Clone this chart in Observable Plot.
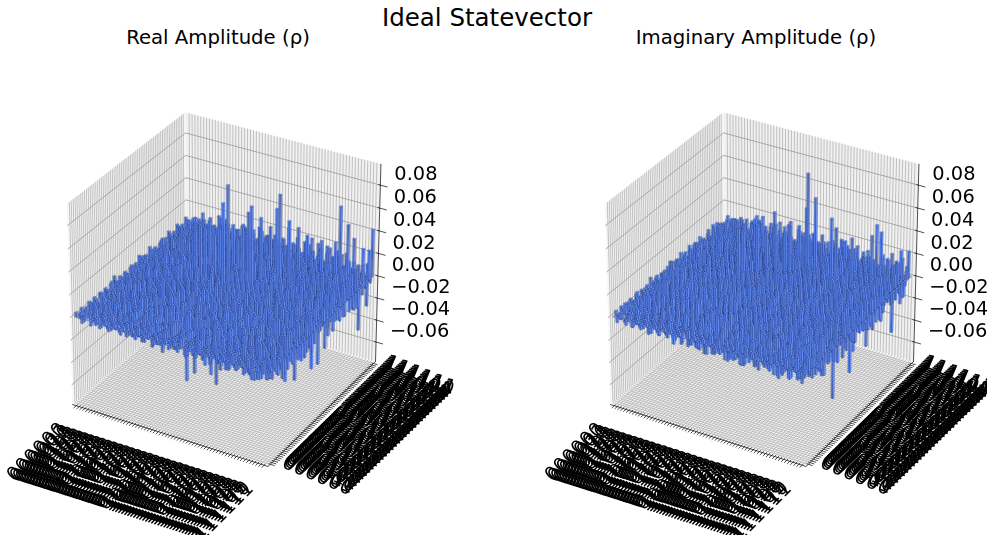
<!DOCTYPE html>
<html><head><meta charset="utf-8">
<script src="https://cdn.jsdelivr.net/npm/d3@7"></script>
<script src="https://cdn.jsdelivr.net/npm/@observablehq/plot@0.6"></script>
<style>
html,body{margin:0;background:#fff;width:987px;height:535px;overflow:hidden;font-family:"DejaVu Sans",sans-serif}
#wrap{position:relative;width:987px;height:535px;overflow:hidden}
#wrap svg{position:absolute;top:0;background:transparent;overflow:hidden;filter:blur(.4px)}
.t{position:absolute;white-space:nowrap;transform:translateX(-50%);color:#000}
</style></head><body><div id="wrap"></div>
<script>
const title="Ideal Statevector", realTitle="Real Amplitude (ρ)", imagTitle="Imaginary Amplitude (ρ)";
const zTicks=[-0.06,-0.04,-0.02,0,0.02,0.04,0.06,0.08];
const nStates=64;
const basisLabels=d3.range(nStates).map(n=>n.toString(2).padStart(6,"0"));
// Upper triangle of each 64x64 density-matrix part, estimated by eye. "." = 0, 1-9 = + steps, a-i = - steps.
const realRows=[
"1.a1.a.1 a.1a.1.a 1a.1a2.a 1.a1.b1a .1a2.a1. a2.b1a.1 b1.a2a.1 a2.b1.2a",
"1a.1.a1 a1a.1.a1 .a2a1.a. 1b1.a2.a 1a.2b.1a 2.a1b.2a 1.b2a.1b 2a1.b2.a",
"1.a1a. 1a.2a.1a 1.a2.b1a 2a.1b2.a 1a2.b1.a 2b.1a3.b 1a2.b1a. 2c1.a2b1",
"1a2.a 1.b1a2.a1 b.2a1.a2 .b1a2.b1 a3.a1b.2 a.b2a1.c 2a1b.3a. 1c2.a2b1",
"2.a1 a2.b1a1. a2.b1a2. b2a.1b3. a1c2.a1b 3a.b2a.1 c2b1a3.b 2a1c.3a2",
"1a2 .b1a2b1. a3.b2a1. c1a2b.3a b1.2c.a3 b2a1.c3a 2b.1a3c2 a.4b1c2a",
"2b 1a.2b1a2 .c1a3.b2 a1c.2a3b 1.a2c1.3 b2a.4c1a 3b2.a1d2 b3a.1c4b",
"1 a2b.3a1b 2c1a.3b2 a.1c3a2b .4a1c2.b 3a2d.1b4 a3c.2b1a 4c2.b3a1",
"a2b1c3a. 2b1a3c.2 a1b4.a2c 3.b1a4c2 .a3b1d.4 a2c3b1.a 4c2d.1b3",
"2a3b.1c 2a1c3.b2 a4b1.c3a 2b.4a1c2 d3a.1b4c 2a.3d1b4 a2c3.b1d",
"3b1a2c 4a.2b3c1 a2d.3b1a 4c2.b3a1 d4.a2c3b 1.4d2a3c b1a4.d2c",
"1c3a2 b4a1c.3b 2a4d1.b3 a2c4.a1d 3b2a.4c1 b3d.2a4c 1.b3a2d4",
"4a2c 1b3.a4d2 b1c3a.4b 2d1.a3c4 b2.a1d4c 3b.2a4d1 c3.b2a4c",
"2d3 b1a4.c2b 3a1d4.b2 c3a.1b4d 2a3c1.b4 a2d3.c1b 4a2.d3b1",
"3a 1c4.b2a3 d1.a4c2b 3.d1a4b2 c3.a1d4b 2c.3a4d1 b2c.3a4b",
"b 2d3a.1c4 a2b3.d1c 4a.2b3d1 a4c.2b3a 1d4.c2a3 b1d.4a2c",
"3a1c2b4. a1d3b2.c 4a1d.3b2 a4c.1d3a 2b4c.1a3 d2b.4c1a",
"2b4a1c3 .d2a4b.1 c3a2d.4b 1a3c.2d4 a1b.3c2a 4d1.b3a2",
"4c1a3b .2d4a1c. 3b2a4.d1 c3a.2b4d 1a.3c2b4 a1d.3b2c",
"1d3a4 b.2c1a4d .3b1a2c4 .d3a1b.4 c2a3d.1b 4c2.a3b1",
"3a2d 4b1.c3a2 d.4b1a3c .2d4a.1b 3c2.d4a1 b3.c2a4d",
"2c4 a1.b3d2a .4c1b3.a 2d4.c1a3 b.2d4a1c 3.b2a4d1",
"4b 1a3c.2d4 a1.b3c2a 4.d1b3a. 2c4d.1a3 b2.c4a1d",
"d 3a1.c4b2 .a3d1c.4 b2a.3d1c 4.a2b3d. 1c4a2.b3",
"1c4a.2d3 b.1a4c2. d3b1a.4c 2.b3a1d. 4c2a.3b1",
"4a2d3.b 1c.4a2b3 .d1c4a.2 b3d.1a4c 2.b3a1d4",
"2c3a.1 d4b.2a3c .1d4a2.b 3c1.d4a2 .b3c1a4d",
"3b1d4 .a2c3b.1 a4d2.c3a .1b4d2.a 3c1.b4a2",
"4d2a .3c1b.4a 2d3.c1b4 .a2d3c.1 b4a2.d3c",
"1a3 c.4b2d.1 a3c.4b2. d1a3.c4b 2.d1a3c.",
"4b 2c.3a1d. 4b2a.3c1 .d4a2.b3 c1.d4a2b",
". 3c1a4.d2 b3.c1a4. d2b3.c1a 4.d2b3a.",
"5a2c.4d1 b3.a2c4. d1b3a.2c 4.d1a3b.",
"3d1.a4c 2.b3d1.a 4c2.b3d. 1a4c.2b3",
"4b2.a3 c.1d4b.2 a3c.1d4. b.2a3c.1",
"1d3.b 4a2.c1d. 3b4.a2c1 .d3b4.a2",
"5a.3 c1.d4b2. a3c.1d4b .2a3c1.d",
"4c2 .b3a.1d4 c2.b3a.1 d4c.2b3a",
"1b 3.c4a2.d 1b3.c4a. 2d1b.3c4",
"5 .a2d3b.1 c4.a2d3. b1c4.a2d",
"3a.1c4b. 2d3a.1c4 .b2d3a.1",
"c4.b2a3 .d1c4.b2 a3.d1c4.",
"4a2.d1 3.b4c.2a 1d3.b4c.",
"6b.3d 1.a4c2.b 3d.1a4c2",
"2d3. a4b1.c3d 2a.4b1c.",
"5c. 3a1.d4b2 .c3a1.d4",
"1b 4.d2a3.c 1b4.d2a3",
"5 .c3b1.a4 d2.c3b1.",
"3a.1d4b. 2c3.a1d4",
"1b3.c4a .2d1b3.c",
"4a.2d3 b.1c4a.2",
"2c.4b .3a1d.2c",
"4d.2 a3c.1b4d",
"3a. 1c4.b2d3",
"2c .3b4.a1d",
"5 .3a2c.4b",
"6.d2a3c.",
"3a.2d1b","4.c3a.","5d.2a","3a.2","4.c","3a","5"].map(s=>s.replace(/ /g,""));
const imagRows=[
".1a.1a1. a1.a1.a1 .a1a2.a1 .b1a1.a2 a.1b.2a1 .a2.b1a. 2a1.b2a. 1b2.a1.b",
".a1.a1a 1.a2.a1a .1b.1a2. a1b.2a1. b2a.1b2a .1b2.a1. c1a2.b3a 1b2.c1a.",
".1a2.a 1.b1a.2a1 .b2a1.a2 b1.a3.b1 a2c.1a2b .3a1c2.a b2.a3c1. 2b1a3.c2",
".a1b. 2a1.b2a. 1c2a.1b3 a.2b1c.3 a2b.1a3c 2.a1b3.a c2b1.a3c 1b.3a2c1",
".2a1 b.3a1.c2 a.3b1a.2 c3.a1b2. a3c1.b2a 4.c1b3a. 2c1.a3b2 d.1a3c2b",
".b2 a3.c1a.2 b3.a1c2. a3b.1c3a .2d1b3.a 4c.2b1a3 .c2d1.a4 b2.c3a1b",
".1 a3c.2b1. a3c2.b1a .4c2.a1d 3.b2a4.c 1b3.a2d. 4a1c.3b2 .a4c1d3.",
". 3b1.a2c. 4a1b.3c2 a.4d1b.3 a2c4.b1a 3.d2c1.a 4b3.c1a2 .d4b.3c1",
".2c3a.1b 4.a2c.3b 1a4.d2.c 3b1.a4c. 2b3.d1a4 .c2b3.a1 d4.c2a3b",
".4a2b.1 c3.a2d.4 b1.c3a.2 d4.b1a3. c2d.4a1. b3c.2a4d .1b3c.a2",
".3b1a. 4c2.a3d1 .b4a.2c3 .d1b4.a2 c3.d1a4. b2c.3d1a .4b2c.3a",
".1c4a .2d3.b1a .4c2.d3b .1a4c.2b .3d1a4.c 2b.3d4a. 1c2.b3d4",
".4a2 c.1b3d.4 a2c.3b1. d4a.2c3. b1d4.a2c .3b1d.4a 2c3.b1d.",
".2d c3.a4b1. d2.c3a4. b1.d2c3. a4b.1d2c .3a4b.1d 2c.3a4b.",
".3 b1.d4a2. c3b.1d4a .2c3b.1d 4a.2c3b. 1d4.a2c3 .b1d4a.2",
". 4a1.c3b2 .d4a.1c3 b.2d4a.1 c3b.2d4. a1c3.b2d .4a1c3.b",
".3b2.d1a 4.c3b.2d 1a4.c3b. 2d1a.4c3 .b2d1.a4 c3.b2d1a",
".1d4.a3 c.2b1d.4 a3c.2b1. d4a3.c2b .1d4a.3c 2b.1d4a3",
".4a3c. 1b2d.4a3 .c1b2.d4 a3.c1b2. d4a.3c1b .2d4a3.c",
".2b4a .1c3d.2b 4.a1c3.d 2b4.a1c. 3d2b.4a1 .c3d2.b4",
".3d1 b.4a2c.3 d1.b4a2. c3d.1b4a .2c3d.1b 4a2.c3d.",
".1a c4.b3d.1 a2c.4b3. d1a.2c4b .3d1a.2c 4b3.d1a.",
".4 c2.b1d3. a4c.2b1d .3a4c.2b 1d3.a4c2 .b1d3a.4",
". 3a1.d4b2 .c3a.1d4 b.2c3a.1 d4b.2c3a .1d4b2.c",
".4d2.b3a 1.c4d.2b 3a1.c4d. 2b3a.1c4 .d2b3.a1",
".2b3a.1 d4.c2b.3 a1d.4c2. b3a1.d4c .2b3a.1d",
".3c1d. 4a2.b3c. 1d4a.2b3 .c1d4.a2 b3.c1d4a",
".1a4b .2d3.c1a .4b2.d3c .1a4b.2d 3c.1a4b2",
".4b2 d.1c3a.4 b2d.1c3. a4b2.d1c .3a4b.2d",
".2d c3.a1b4. d2c.3a1b .4d2c.3a 1b.4d2c3",
".3 a1.b4c2. d3a.1b4c .2d3a.1b 4c.2d3a1",
". 4b2.d1a3 .c4b.2d1 a.3c4b.2 d1a.3c4b",
".2a3.c4d 1.b2a.3c 4d.1b2a. 3c4d.1b2",
".3c.4a1 b.2d3c.4 a1.b2d3. c4a1.b2d",
".1d4.a 3c.2b1d4 .a3c2.b1 d4a.3c2b",
".4a.2 c3b.1d4a .2c3b.1d 4a.2c3b1",
".2b4 .a3d1c.2 b4a.3d1c .2b4a.3d",
".4c .1a3b.2d 4c.1a3b. 2d4c.1a3",
".1 b4.d2a3c .1b4.d2a 3c.1b4d2",
". 3d.2c4a1 .b3d.2c4 a1.b3d2c",
".2a4.c1d 3.b2a4.c 1d3.b2a4",
".4c.1b3 .d2a4c.1 b3.d2a4c",
".3b1.a 4d.2c3b1 .a4d.2c3",
".1d3. a4c2.b1d .3a4c.2b",
".4a2 .c3d1.b4 a2.c3d1.",
".2b .4a1.d3c .2b4a.1d",
".3 c1.b4a2. d3c1.b4a",
". 4a2.d1b3 .c4a2.d1",
".2d3.b4a .1c2d.3b",
".3b1.a4 d.2c3b.1",
".4a2.d 1c.3b4a.",
".1c3. a4.b2d1",
".3d1 .a4c2.b",
".4a .2d3.c1",
".2 b4.c1a3.",
". 3d1.a4c.",
".2a4.d3.",".3c.1a4",".4b.2a",".2d3.",".3a1",".4b",".2","."].map(s=>s.replace(/ /g,""));
// Bars that stand clear of the mass: [row, column, height]
const realPeaks=[[32,32,.097],[31,31,.082],[37,37,.076],[36,37,.07],[43,43,.083],[42,43,.07],[39,39,.065],[45,45,.059],[47,47,.052],[56,56,.066],[58,57,.05],[63,63,.042],[59,59,.036],[63,61,.026],[52,52,.038],[55,55,.035],[61,61,.026],[2,47,.01],[35,35,.06],
[20,34,.046],[21,35,.051],[22,36,.047],[23,37,.048],[24,38,.04],[25,39,.045],[28,42,.047],[29,43,.034],[31,45,.042],[34,48,.035],[36,50,.041],[37,51,.033],[40,54,.037],[44,58,.029],[45,59,.026],[47,61,.015],[49,63,.015],
[34,5,-.036],[36,6,-.029],[42,5,-.024],[42,8,-.037],[60,16,-.031],[62,18,-.031],[55,11,-.02],[62,28,-.035],[63,30,-.033],[62,36,-.028],[60,30,-.021],[63,55,-.037],[63,60,-.022],[63,52,-.015],[62,47,-.015]];
const imagPeaks=[[38,46,.094],[37,47,.062],[40,47,.073],[18,50,.035],[20,51,.037],[24,51,.044],[30,50,.041],[28,50,.035],[34,48,.043],[47,44,.064],[48,45,.055],[55,54,.042],[56,55,.051],[57,56,.044],[61,61,.024],[63,62,.024],[50,51,.04],[12,40,.006],
[21,35,.048],[22,36,.045],[25,39,.049],[27,41,.042],[29,43,.047],[31,45,.038],[32,46,.043],[35,49,.036],[39,53,.032],[42,56,.023],[44,58,.024],[46,60,.016],
[61,20,-.051],[61,30,-.042],[62,38,-.029],[59,17,-.028],[56,10,-.021],[35,5,-.018],[26,3,-.011],[63,52,-.035],[62,47,-.019],[61,32,-.026],[63,58,-.012]];

const step=.004, digit=c=>{ if(!c||c===".")return 0; const k=c.charCodeAt(0); return (k>=97? -(k-96):k-48)*step; };
function matrix(rows,sign,peaks){
  const m=d3.range(nStates).map(()=>new Array(nStates).fill(0));
  rows.forEach((r,i)=>{ for(let k=0;k<r.length;k++){ const j=i+k; if(j<nStates){ m[i][j]=digit(r[k]); if(k) m[j][i]=sign*digit(r[k]); } } });
  peaks.forEach(([i,j,z])=>{m[i][j]=z;});
  return m;
}
const colTop="#6f97ff", colSideA="#4f76de", colSideB="#6c96ff";
const X0=-.8,X1=64.8,Z0=-.078,Z1=.098;
const AX=1.143,AZ=1.155,D=16;
function proj(i,j,z){
  const dx=((i-X0)/(X1-X0)-.5)*AX, dy=((j-X0)/(X1-X0)-.5)*AX, dz=((z-Z0)/(Z1-Z0)-.5)*AZ;
  const xv=.866*dx+.5*dy, yv=-.25*dx+.433*dy+.866*dz, d=D-(.433*dx-.75*dy+.5*dz);
  return [10*xv/d,10*yv/d];
}
const SX=316,SY=317.8,U0=-.7127,V0=.8959;
const poly=(out,id,pts,c)=>pts.forEach(p=>{const [u,v]=proj(...p);out.push({id,u,v,c});});
function panel(m,left,w){
  const walls=[],grid=[],axisL=[],bars=[];let id=0;
  poly(walls,id++,[[X0,X0,Z0],[X0,X1,Z0],[X0,X1,Z1],[X0,X0,Z1]],"#f6f6f6");
  poly(walls,id++,[[X0,X1,Z0],[X1,X1,Z0],[X1,X1,Z1],[X0,X1,Z1]],"#f1f1f1");
  poly(walls,id++,[[X0,X0,Z0],[X1,X0,Z0],[X1,X1,Z0],[X0,X1,Z0]],"#f4f4f4");
  const seg=(arr,pts)=>{const k=id++;pts.forEach(p=>{const [u,v]=proj(...p);arr.push({id:k,u,v});});};
  for(let n=0;n<nStates;n++){const t=n+.5;
    seg(grid,[[t,X0,Z0],[t,X1,Z0],[t,X1,Z1]]);
    seg(grid,[[X1,t,Z0],[X0,t,Z0],[X0,t,Z1]]);
    seg(axisL,[[t,X0+.5,Z0],[t,X0-1.3,Z0]]);
    seg(axisL,[[X1-.5,t,Z0],[X1+1.3,t,Z0]]);
  }
  const gridZ=[];
  zTicks.forEach(z=>{seg(gridZ,[[X0,X0,z],[X0,X1,z],[X1,X1,z]]);seg(axisL,[[X1-.6,X1,z],[X1+2.2,X1,z]]);});
  seg(axisL,[[X1,X1,Z0],[X1,X1,Z1]]);
  seg(axisL,[[X0,X0,Z0],[X1,X0,Z0],[X1,X1,Z0]]);
  const cells=[];for(let i=0;i<nStates;i++)for(let j=0;j<nStates;j++)cells.push([i,j]);
  cells.sort((a,b)=>(a[0]-a[1])-(b[0]-b[1]));
  cells.forEach(([i,j])=>{const z=m[i][j],a=i+.16,b=i+.84,c=j+.16,e=j+.84,lo=Math.min(0,z),hi=Math.max(0,z);
    if(hi>lo){
      poly(bars,id++,[[a,c,lo],[b,c,lo],[b,c,hi],[a,c,hi]],colSideA);
      poly(bars,id++,[[b,c,lo],[b,e,lo],[b,e,hi],[b,c,hi]],colSideB);
    }
    poly(bars,id++,[[a,c,hi],[b,c,hi],[b,e,hi],[a,e,hi]],colTop);
  });
  const xLab=basisLabels.map((s,n)=>{const [u,v]=proj(n+.5,X0,Z0);return {s,u:u-14/SX,v:v-20/SY};});
  const yLab=basisLabels.map((s,n)=>{const [u,v]=proj(X1,n+.5,Z0);return {s,u:u+13/SX,v:v+3/SY};});
  const zLab=zTicks.map(z=>{const [u,v]=proj(X1,X1,z);return {s:(z<0?"\u2212":"")+Math.abs(z).toFixed(2),u:u+14/SX,v:v+11/SY};});
  const chart=Plot.plot({width:w,height:535,margin:0,
    x:{domain:[U0,U0+w/SX],range:[0,w],axis:null},
    y:{domain:[V0-535/SY,V0],range:[535,0],axis:null},
    marks:[
      Plot.line(walls,{x:"u",y:"v",z:"id",fill:"c",stroke:"none",curve:"linear-closed"}),
      Plot.line(grid,{x:"u",y:"v",z:"id",stroke:"#b4b4b4",strokeWidth:.8}),
      Plot.line(gridZ,{x:"u",y:"v",z:"id",stroke:"#a8a8a8",strokeWidth:1}),
      Plot.line(axisL,{x:"u",y:"v",z:"id",stroke:"#222",strokeWidth:.8}),
      Plot.line(bars,{x:"u",y:"v",z:"id",fill:"c",stroke:"#16224e",strokeWidth:.28,strokeOpacity:.75,curve:"linear-closed"}),
      Plot.text(xLab,{x:"u",y:"v",text:"s",rotate:-45,textAnchor:"end",lineAnchor:"middle",fontSize:19.4,fontFamily:"DejaVu Sans",fill:"#000"}),
      Plot.text(yLab,{x:"u",y:"v",text:"s",rotate:22.5,textAnchor:"start",lineAnchor:"middle",fontSize:19.4,fontFamily:"DejaVu Sans",fill:"#000"}),
      Plot.text(zLab,{x:"u",y:"v",text:"s",textAnchor:"start",lineAnchor:"middle",fontSize:19.4,fontFamily:"DejaVu Sans",fill:"#000"})
    ]});
  chart.style.left=left+"px";
  return chart;
}
const wrap=document.getElementById("wrap");
wrap.append(panel(matrix(realRows,1,realPeaks),0,538));
wrap.append(panel(matrix(imagRows,-1,imagPeaks),538,449));
[[title,487,3,24.5],[realTitle,218,26,19.7],[imagTitle,756,26,19.7]].forEach(([s,x,y,f])=>{
  const d=document.createElement("div");d.className="t";d.textContent=s;d.style.cssText=`left:${x}px;top:${y}px;font-size:${f}px`;wrap.append(d);
});
</script></body></html>
